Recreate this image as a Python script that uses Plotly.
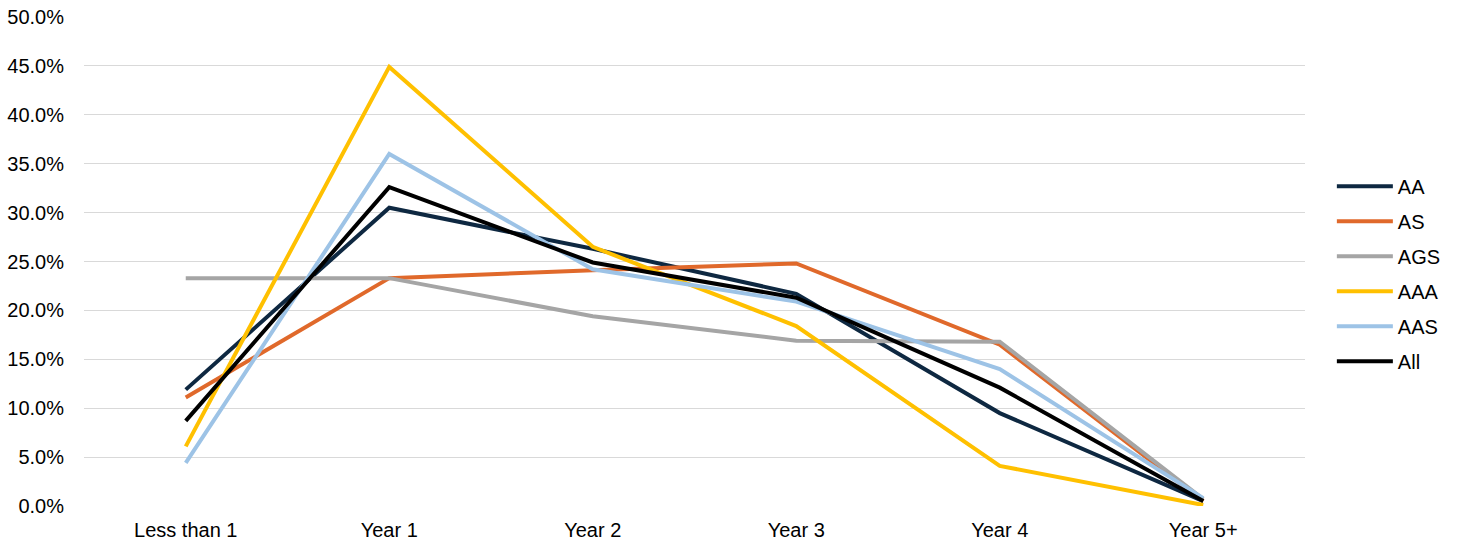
import plotly.graph_objects as go

categories = ["Less than 1", "Year 1", "Year 2", "Year 3", "Year 4", "Year 5+"]

aa = [0.119, 0.305, 0.263, 0.217, 0.095, 0.005]
as_ = [0.111, 0.233, 0.241, 0.248, 0.165, 0.005]
ags = [0.233, 0.233, 0.194, 0.169, 0.168, 0.007]
aaa = [0.061, 0.449, 0.265, 0.184, 0.041, 0.001]
aas = [0.044, 0.360, 0.242, 0.209, 0.140, 0.008]
all_ = [0.087, 0.326, 0.249, 0.213, 0.121, 0.005]

series = [
    ("AA", aa, "#0E2841"),
    ("AS", as_, "#E0692B"),
    ("AGS", ags, "#A5A5A5"),
    ("AAA", aaa, "#FFC000"),
    ("AAS", aas, "#9DC3E6"),
    ("All", all_, "#000000"),
]

fig = go.Figure()
for i, (name, vals, color) in enumerate(series):
    fig.add_trace(go.Scatter(
        x=categories, y=vals, name=name, mode="lines",
        line=dict(color=color, width=4),
        legendgroup=f"g{i}",
    ))

font = "Liberation Sans, Arial, sans-serif"

fig.update_layout(
    width=1457, height=546,
    margin=dict(l=84, r=152, t=17, b=40, autoexpand=False),
    paper_bgcolor="white", plot_bgcolor="white",
    font=dict(family=font, size=20, color="#000000"),
    showlegend=True,
    legend=dict(
        x=1.022, y=0.475, xanchor="left", yanchor="middle",
        font=dict(family=font, size=20, color="#000000"),
        tracegroupgap=6,
        itemwidth=56,
        bgcolor="rgba(0,0,0,0)",
    ),
    xaxis=dict(
        type="category", range=[-0.5, 5.5], automargin=False,
        showgrid=False, zeroline=False, showline=False,
        ticks="outside", ticklen=6, tickcolor="rgba(0,0,0,0)",
        tickfont=dict(family=font, size=20, color="#000000"),
        fixedrange=True,
    ),
    yaxis=dict(
        range=[0, 0.5], dtick=0.05, tickformat=".1%", automargin=False,
        showgrid=True, gridcolor="#D9D9D9", gridwidth=1,
        zeroline=False, showline=False,
        ticks="outside", ticklen=15, tickcolor="rgba(0,0,0,0)",
        tickfont=dict(family=font, size=20, color="#000000"),
        fixedrange=True,
    ),
)

fig.write_html("out.html")
